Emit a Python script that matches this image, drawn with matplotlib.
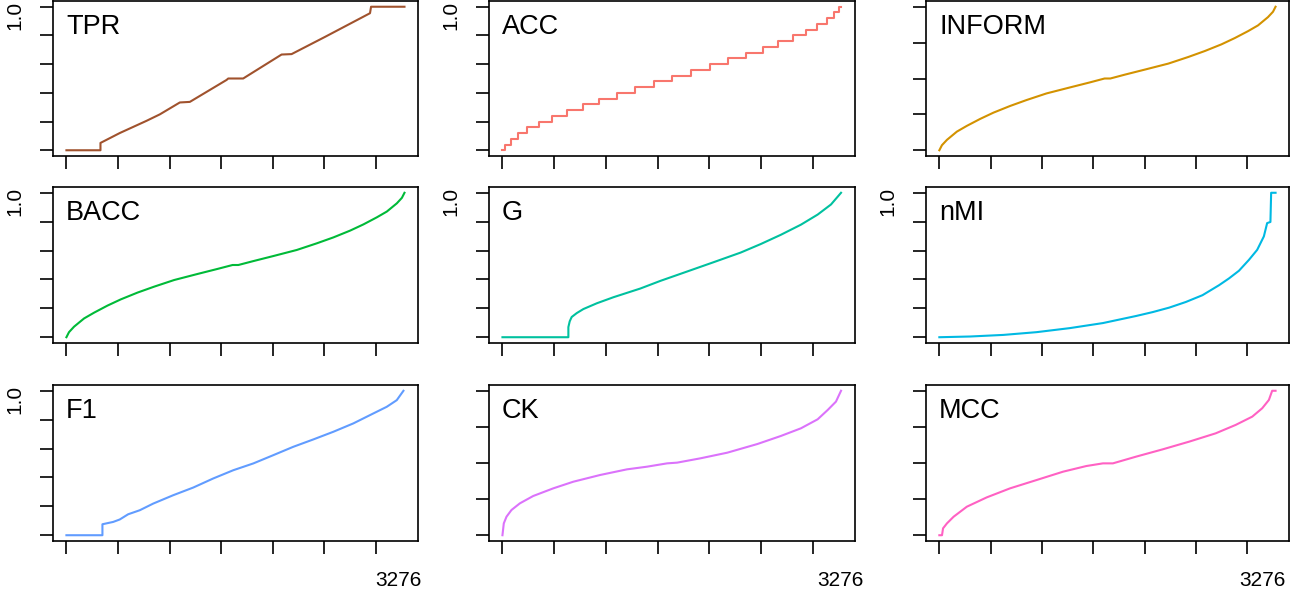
import matplotlib
matplotlib.use("Agg")
import matplotlib.pyplot as plt
from matplotlib.transforms import offset_copy

plt.rcParams['font.family'] = ['Liberation Sans', 'DejaVu Sans']

# sorted metric values over all 3276 tables
n_tables = 3276
x_ticks = [0, 500, 1000, 1500, 2000, 2500, 3000]
unit_ticks = [0, 0.2, 0.4, 0.6, 0.8, 1.0]
signed_ticks = [-1, -0.5, 0, 0.5, 1]

tpr_x = [0, 330, 330, 517, 776, 905, 1099, 1196, 1552, 1568, 1713, 1746, 2085, 2182, 2344, 2506, 2942, 2952, 3276]
tpr_y = [0, 0, 0.051, 0.12, 0.205, 0.25, 0.333, 0.337, 0.49, 0.5, 0.5, 0.515, 0.667, 0.67, 0.73, 0.79, 0.955, 1.0, 1.0]

acc_x = [0, 29, 81, 152, 239, 355, 475, 620, 776, 934, 1105, 1277, 1461, 1639,
         1823, 2004, 2179, 2354, 2518, 2667, 2809, 2932, 3039, 3136, 3207, 3256, 3276]
acc_y = [0, 0.04, 0.08, 0.12, 0.16, 0.2, 0.24, 0.28, 0.32, 0.36, 0.4, 0.44, 0.48, 0.52,
         0.56, 0.6, 0.64, 0.68, 0.72, 0.76, 0.8, 0.84, 0.88, 0.92, 0.96, 1.0, 1.0]

inform_x = [0, 25, 74, 171, 268, 398, 527, 689, 850, 1044, 1271, 1465, 1610, 1666, 1811, 2005, 2232,
            2426, 2587, 2749, 2878, 3008, 3105, 3202, 3251, 3276]
inform_y = [-1, -0.93, -0.855, -0.74, -0.66, -0.563, -0.476, -0.383, -0.30, -0.208, -0.125, -0.055, 0, 0,
            0.055, 0.125, 0.208, 0.30, 0.383, 0.476, 0.563, 0.66, 0.74, 0.855, 0.93, 1.0]

bacc_x = [0, 25, 74, 171, 268, 398, 527, 689, 850, 1044, 1271, 1465, 1610, 1666, 1811, 2005, 2232,
          2426, 2587, 2749, 2878, 3008, 3105, 3202, 3251, 3276]
bacc_y = [0, 0.035, 0.073, 0.13, 0.17, 0.219, 0.262, 0.309, 0.35, 0.396, 0.438, 0.473, 0.5, 0.5,
          0.527, 0.562, 0.604, 0.65, 0.691, 0.738, 0.781, 0.83, 0.87, 0.927, 0.965, 1.0]

g_x = [0, 637, 637, 650, 669, 718, 782, 912, 1073, 1332, 1526, 1785, 2043, 2302, 2496, 2690, 2884, 3046, 3175, 3272]
g_y = [0, 0, 0.07, 0.11, 0.14, 0.167, 0.195, 0.235, 0.277, 0.337, 0.39, 0.455, 0.52, 0.586, 0.645, 0.709, 0.779, 0.849, 0.919, 1.0]

nmi_x = [0, 301, 624, 947, 1271, 1594, 1917, 2079, 2240, 2402, 2564, 2725, 2822, 2919, 3016, 3097, 3162, 3194, 3226, 3233, 3276]
nmi_y = [0, 0.005, 0.016, 0.035, 0.063, 0.098, 0.147, 0.174, 0.205, 0.244, 0.291, 0.36, 0.407, 0.46, 0.535, 0.605, 0.698, 0.79, 0.798, 1.0, 1.0]

f1_x = [0, 349, 349, 453, 517, 598, 711, 841, 1035, 1229, 1423, 1617, 1811, 2004, 2198, 2392, 2586, 2780, 2974, 3104, 3201, 3266]
f1_y = [0, 0, 0.076, 0.092, 0.109, 0.145, 0.173, 0.219, 0.277, 0.33, 0.393, 0.45, 0.497, 0.554, 0.612, 0.663, 0.716, 0.774, 0.843, 0.889, 0.935, 1.0]

ck_x = [0, 13, 39, 87, 168, 297, 491, 685, 944, 1203, 1397, 1591, 1688, 1914, 2173, 2464, 2690, 2884, 3046, 3143, 3223, 3272]
ck_y = [-1, -0.836, -0.744, -0.651, -0.559, -0.457, -0.351, -0.259, -0.166, -0.088, -0.051, -0.005, 0.005, 0.065, 0.143, 0.263, 0.374, 0.48, 0.605, 0.734, 0.85, 1.0]

mcc_x = [0, 26, 36, 74, 139, 268, 462, 689, 947, 1206, 1432, 1594, 1691, 1917, 2176, 2435, 2693, 2887, 3049, 3146, 3211, 3243, 3276]
mcc_y = [-1, -1, -0.905, -0.836, -0.744, -0.605, -0.476, -0.351, -0.236, -0.12, -0.042, -0.005, -0.005, 0.088, 0.189, 0.296, 0.411, 0.527, 0.642, 0.758, 0.873, 1.0, 1.0]

panels = [
    ("TPR", tpr_x, tpr_y, "#A0522D", "unit", "line"),
    ("ACC", acc_x, acc_y, "#F8766D", "unit", "steps"),
    ("INFORM", inform_x, inform_y, "#D39200", "signed", "line"),
    ("BACC", bacc_x, bacc_y, "#00BA38", "unit", "line"),
    ("G", g_x, g_y, "#00C19F", "unit", "line"),
    ("nMI", nmi_x, nmi_y, "#00B9E3", "unit", "line"),
    ("F1", f1_x, f1_y, "#619CFF", "unit", "line"),
    ("CK", ck_x, ck_y, "#DB72FB", "signed", "line"),
    ("MCC", mcc_x, mcc_y, "#FF61C3", "signed", "line"),
]

W, H = 1307, 599
col_left = [53, 489, 926]
col_right = [418, 855, 1289]
row_top = [1, 187, 385]
row_bot = [156, 343, 541]
count_label_x = [398, 840, 1262]

fig = plt.figure(figsize=(W / 100, H / 100), dpi=100)

for i, (name, xs, ys, color, kind, style) in enumerate(panels):
    r, c = divmod(i, 3)
    l, rt, t, b = col_left[c], col_right[c], row_top[r], row_bot[r]
    ax = fig.add_axes([l / W, 1 - b / H, (rt - l) / W, (b - t) / H])
    if style == "steps":
        ax.plot(xs, ys, color=color, lw=1.5, drawstyle="steps-post")
    else:
        ax.plot(xs, ys, color=color, lw=1.5)

    pad = 0.04 * (n_tables - 1)
    ax.set_xlim(1 - pad, n_tables + pad)
    ax.set_xticks(x_ticks)
    if kind == "unit":
        ax.set_ylim(-0.04, 1.04)
        ax.set_yticks(unit_ticks)
        ax.text(0, 1, "1.0", rotation=90, ha="center", va="top", fontsize=15,
                transform=offset_copy(ax.transAxes, fig, x=-38, y=0, units="dots"))
    else:
        ax.set_ylim(-1.08, 1.08)
        ax.set_yticks(signed_ticks)
    ax.tick_params(length=9.4, width=1.2, labelleft=False, labelbottom=False)
    for sp in ax.spines.values():
        sp.set_linewidth(1.2)

    ax.text(0, 1, name, ha="left", va="baseline", fontsize=19.5,
            transform=offset_copy(ax.transAxes, fig, x=13, y=-33, units="dots"))

    if r == 2:
        fig.text(count_label_x[c] / W, 1 - 580 / H, str(n_tables),
                 ha="center", va="center", fontsize=15)

fig.savefig("out.png", dpi=100)
